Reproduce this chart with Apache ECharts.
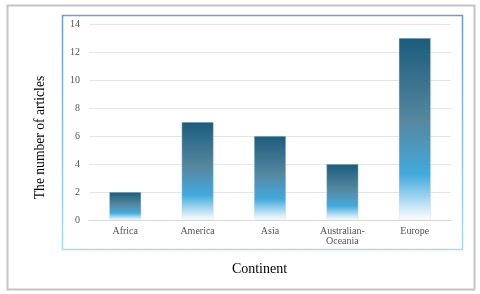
<!DOCTYPE html>
<html><head><meta charset="utf-8">
<script src="https://cdn.jsdelivr.net/npm/echarts@6/dist/echarts.min.js"></script>
<style>html,body{margin:0;padding:0;background:#fff}#c{width:480px;height:294px}</style>
</head><body><div id="c"></div>
<script>
const categories = ['Africa', 'America', 'Asia', 'Australian-\nOceania', 'Europe'];
const articleCounts = [2, 7, 6, 4, 13];
const yTicks = [0, 2, 4, 6, 8, 10, 12, 14];
const xTitle = 'Continent';
const yTitle = 'The number of articles';

const chart = echarts.init(document.getElementById('c'), null, {renderer: 'canvas'});
const serif = '"Liberation Serif", "DejaVu Serif", serif';
const barGrad = new echarts.graphic.LinearGradient(0, 0, 0, 1, [
  {offset: 0, color: '#1a5c7c'},
  {offset: 0.45, color: '#56879f'},
  {offset: 0.75, color: '#42aadd'},
  {offset: 1, color: '#ffffff'}
]);
chart.setOption({
  animation: false,
  graphic: [
    {type: 'rect', shape: {x: 7.5, y: 5.5, width: 467, height: 284}, style: {fill: 'none', stroke: '#c4c4c4', lineWidth: 2}},
    {type: 'rect', shape: {x: 62.5, y: 15.5, width: 400, height: 234},
      style: {fill: 'none', stroke: new echarts.graphic.LinearGradient(0, 0, 0, 1, [{offset: 0, color: '#6a9ccc'}, {offset: 1, color: '#a8dcf4'}]), lineWidth: 1.5}},
    {type: 'text', x: 259.5, y: 269, style: {text: xTitle, font: '14px ' + serif, fill: '#000', align: 'center', verticalAlign: 'middle'}},
    {type: 'text', x: 40, y: 137.5, rotation: Math.PI / 2, style: {text: yTitle, font: '13.6px ' + serif, fill: '#000', align: 'center', verticalAlign: 'middle'}}
  ],
  grid: {left: 89, right: 29, top: 24, bottom: 74},
  xAxis: {
    type: 'category', data: categories,
    axisLine: {lineStyle: {color: '#d9d9d9'}},
    axisTick: {show: false},
    axisLabel: {fontFamily: serif, fontSize: 10, color: '#555', margin: 6, lineHeight: 10, interval: 0}
  },
  yAxis: {
    type: 'value', min: yTicks[0], max: yTicks[yTicks.length - 1], interval: 2,
    axisLine: {show: false}, axisTick: {show: false},
    splitLine: {lineStyle: {color: '#e6e6e6'}},
    axisLabel: {fontFamily: serif, fontSize: 10, color: '#555', margin: 9}
  },
  series: [{
    type: 'bar', data: articleCounts, barWidth: 32,
    itemStyle: {color: barGrad, borderColor: 'rgba(200,225,240,0.8)', borderWidth: 0.5}
  }]
});
</script></body></html>
